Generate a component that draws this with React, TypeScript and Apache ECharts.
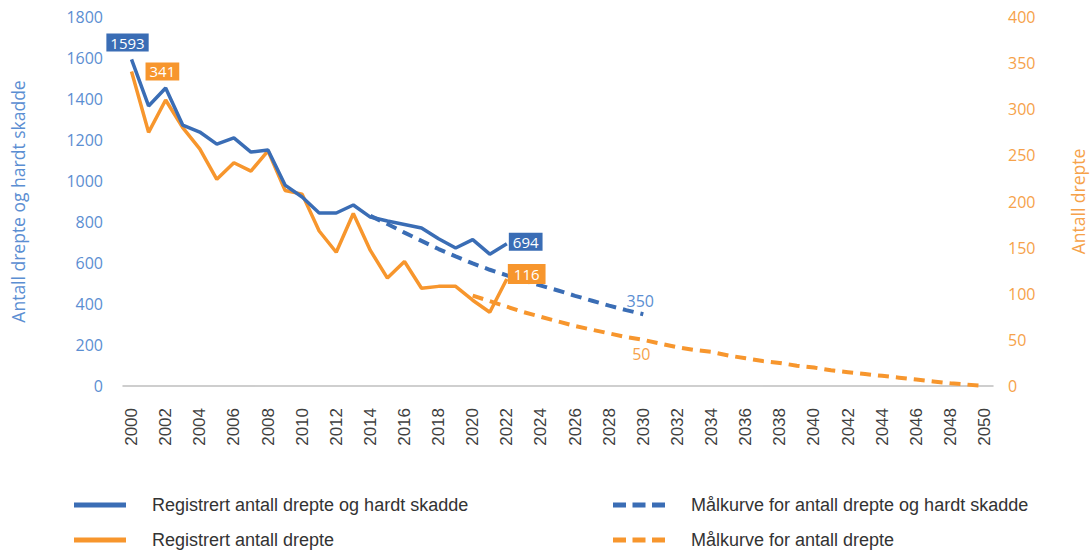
import React, { useEffect, useRef } from "react";
import * as echarts from "echarts";

const years = [
  "2000", "2001", "2002", "2003", "2004", "2005", "2006", "2007", "2008", "2009",
  "2010", "2011", "2012", "2013", "2014", "2015", "2016", "2017", "2018", "2019",
  "2020", "2021", "2022", "2023", "2024", "2025", "2026", "2027", "2028", "2029",
  "2030", "2031", "2032", "2033", "2034", "2035", "2036", "2037", "2038", "2039",
  "2040", "2041", "2042", "2043", "2044", "2045", "2046", "2047", "2048", "2049",
  "2050",
];

// Registrert antall drepte og hardt skadde, 2000-2022
const registeredSevere = [
  1593, 1366, 1454, 1273, 1239, 1180, 1210, 1141, 1151, 980,
  922, 844, 844, 883, 824, 805, 788, 771, 718, 673,
  714, 643, 694,
];
// Registrert antall drepte, 2000-2022
const registeredKilled = [
  341, 275, 310, 280, 257, 224, 242, 233, 255, 212,
  208, 168, 145, 187, 147, 117, 135, 106, 108, 108,
  93, 80, 116,
];
// Målkurve for antall drepte og hardt skadde, 2014-2030
const targetSevereStart = 2014;
const targetSevere = [
  830, 790, 748, 708, 668, 632, 598, 567, 540, 513, 490, 466, 440, 416, 392, 370, 350,
];
// Målkurve for antall drepte, 2020-2050
const targetKilledStart = 2020;
const targetKilled = [
  98, 92, 86, 80, 75, 70, 65, 61, 57, 53, 50, 46, 42, 39, 37, 33, 30, 27, 25, 22,
  20, 17, 15, 13, 11, 9, 7, 5, 3, 1.5, 0,
];

const leftTicks = { min: 0, max: 1800, interval: 200 };
const rightTicks = { min: 0, max: 400, interval: 50 };

const seriesNames = [
  "Registrert antall drepte og hardt skadde",
  "Registrert antall drepte",
  "Målkurve for antall drepte og hardt skadde",
  "Målkurve for antall drepte",
];

const BLUE = "#3a6db5";
const ORANGE = "#f7962d";
const BLUE_TXT = "#5b8ed2";
const ORANGE_TXT = "#f6a24a";
const FONT = "'Open Sans', sans-serif";
const FONT2 = "'Liberation Sans', Arial, sans-serif";

const SOLID_ICON = "path://M0,0h52v5H0z";
const DASH_ICON = "path://M0,0h13v5H0zM19.5,0h13v5h-13zM39,0h13v5h-13z";

function pad(start: number, vals: number[]) {
  const off = start - 2000;
  return years.map((_, i) => {
    const k = i - off;
    return k >= 0 && k < vals.length ? vals[k] : null;
  });
}

function withLabels(data: (number | null)[], labels: Record<number, any>) {
  return data.map((v, i) => (labels[i] ? { value: v, label: labels[i] } : v));
}

const boxLabel = (bg: string, extra: any) => ({
  show: true,
  color: "#fff",
  backgroundColor: bg,
  fontFamily: FONT,
  fontSize: 15,
  padding: [2, 4, 1, 4],
  ...extra,
});

const lineBase = {
  type: "line",
  symbol: "circle",
  symbolSize: 0,
  showSymbol: true,
  showAllSymbol: true,
};

const legendBase = {
  orient: "vertical",
  top: 496,
  padding: 0,
  itemWidth: 52,
  itemHeight: 5,
  itemGap: 17,
  textStyle: { color: "#333", fontFamily: FONT2, fontSize: 18, padding: [0, 0, 0, 21] },
};

export default function App() {
  const ref = useRef<HTMLDivElement>(null);
  useEffect(() => {
    const chart = echarts.init(ref.current!, null, { renderer: "svg" });
    const option: any = {
      animation: false,
      backgroundColor: "#fff",
      grid: {
        left: 123,
        right: 97,
        top: 17,
        bottom: 168,
        containLabel: false,
        outerBoundsMode: "none",
      },
      legend: [
        {
          ...legendBase,
          left: 74,
          data: [
            { name: seriesNames[0], icon: SOLID_ICON },
            { name: seriesNames[1], icon: SOLID_ICON },
          ],
        },
        {
          ...legendBase,
          left: 613,
          data: [
            { name: seriesNames[2], icon: DASH_ICON },
            { name: seriesNames[3], icon: DASH_ICON },
          ],
        },
      ],
      xAxis: {
        type: "category",
        data: years,
        boundaryGap: true,
        axisLine: { lineStyle: { color: "#bfbfbf", width: 1.5 } },
        axisTick: { show: false },
        axisLabel: {
          interval: 1,
          rotate: 90,
          margin: 22,
          color: "#404040",
          fontFamily: FONT2,
          fontSize: 17,
        },
      },
      yAxis: [
        {
          type: "value",
          ...leftTicks,
          name: "Antall drepte og hardt skadde",
          nameLocation: "middle",
          nameRotate: 90,
          nameGap: 96,
          nameTextStyle: { color: BLUE_TXT, fontFamily: FONT, fontSize: 17.5 },
          axisLine: { show: false },
          axisTick: { show: false },
          splitLine: { show: false },
          axisLabel: {
            color: BLUE_TXT,
            fontFamily: FONT,
            fontSize: 16,
            margin: 20,
            formatter: (v: number) => String(v),
          },
        },
        {
          type: "value",
          ...rightTicks,
          position: "right",
          name: "Antall drepte",
          nameLocation: "middle",
          nameRotate: 90,
          nameGap: 76,
          nameTextStyle: { color: ORANGE_TXT, fontFamily: FONT, fontSize: 17.5 },
          axisLine: { show: false },
          axisTick: { show: false },
          splitLine: { show: false },
          axisLabel: {
            color: ORANGE_TXT,
            fontFamily: FONT,
            fontSize: 16,
            margin: 15,
            formatter: (v: number) => String(v),
          },
        },
      ],
      series: [
        {
          ...lineBase,
          name: seriesNames[3],
          yAxisIndex: 1,
          lineStyle: { color: ORANGE, width: 4, type: [11, 7] },
          itemStyle: { color: ORANGE },
          data: withLabels(pad(targetKilledStart, targetKilled), {
            30: { show: true, position: "bottom", distance: 6, offset: [-2, 0], color: ORANGE_TXT, fontFamily: FONT, fontSize: 16 },
          }),
          z: 2,
        },
        {
          ...lineBase,
          name: seriesNames[2],
          yAxisIndex: 0,
          lineStyle: { color: BLUE, width: 4, type: [11, 7] },
          itemStyle: { color: BLUE },
          data: withLabels(pad(targetSevereStart, targetSevere), {
            30: { show: true, position: "top", distance: 6, offset: [-3, 1], color: BLUE_TXT, fontFamily: FONT, fontSize: 16 },
          }),
          z: 2,
        },
        {
          ...lineBase,
          name: seriesNames[1],
          yAxisIndex: 1,
          lineStyle: { color: ORANGE, width: 3.5 },
          itemStyle: { color: ORANGE },
          data: withLabels(pad(2000, registeredKilled), {
            0: boxLabel(ORANGE, { position: "right", distance: 14 }),
            22: boxLabel(ORANGE, { position: "right", distance: 1, offset: [0, -5], padding: [3, 6, 2, 6] }),
          }),
          z: 3,
        },
        {
          ...lineBase,
          name: seriesNames[0],
          yAxisIndex: 0,
          lineStyle: { color: BLUE, width: 3.5 },
          itemStyle: { color: BLUE },
          data: withLabels(pad(2000, registeredSevere), {
            0: boxLabel(BLUE, { position: "top", distance: 5, offset: [-4, -3] }),
            22: boxLabel(BLUE, { position: "right", distance: 2, offset: [0, -2] }),
          }),
          z: 4,
        },
      ],
    };
    chart.setOption(option);
    return () => chart.dispose();
  }, []);
  return (
    <div
      ref={ref}
      style={{ position: "fixed", left: 0, top: 0, width: 1090, height: 554 }}
    />
  );
}
